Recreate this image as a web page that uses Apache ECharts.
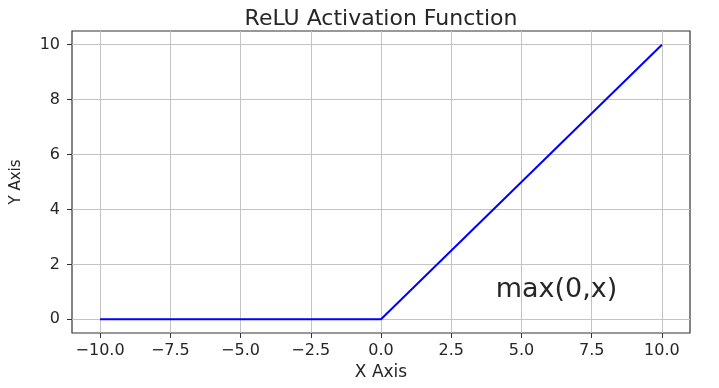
<!DOCTYPE html>
<html><head><meta charset="utf-8">
<script src="https://cdn.jsdelivr.net/npm/echarts@6/dist/echarts.min.js"></script>
<style>html,body{margin:0;padding:0;background:#fff}#c{width:719px;height:388px}</style>
</head><body><div id="c"></div>
<script>
const xValues = [-10, -5, 0, 5, 10];
const yValues = [0, 0, 0, 5, 10];
const xTicks = [-10, -7.5, -5, -2.5, 0, 2.5, 5, 7.5, 10];
const yTicks = [0, 2, 4, 6, 8, 10];
const annotation = {x: 6.25, y: 1.05, text: 'max(0,x)'};
const titleText = 'ReLU Activation Function';

const fmt = v => (v < 0 ? '\u2212' : '') + Math.abs(v).toFixed(1);
const font = 'DejaVu Sans';
const txt = '#262626';
const chart = echarts.init(document.getElementById('c'));
chart.setOption({
  animation: false,
  backgroundColor: '#fff',
  title: {text: titleText, left: 376, top: 3, textAlign: 'center',
    textStyle: {fontFamily: font, fontSize: 22, fontWeight: 'normal', color: txt}},
  grid: {left: 72, right: 29, top: 31, bottom: 55, show: true, borderColor: '#333', borderWidth: 1.2,
    outerBoundsMode: 'none', containLabel: false},
  xAxis: {type: 'value', min: -11, max: 11,
    name: 'X Axis', nameLocation: 'middle', nameGap: 31,
    nameTextStyle: {fontFamily: font, fontSize: 17, color: txt},
    axisLine: {show: false, onZero: false},
    axisTick: {show: true, length: 5, customValues: xTicks, lineStyle: {color: '#333'}},
    axisLabel: {customValues: xTicks, formatter: fmt, fontFamily: font, fontSize: 16, color: txt, margin: 10},
    splitLine: {show: true, lineStyle: {color: '#c4c4c4', width: 1}}},
  yAxis: {type: 'value', min: -0.5, max: 10.5,
    name: 'Y Axis', nameLocation: 'middle', nameGap: 48,
    nameTextStyle: {fontFamily: font, fontSize: 15, color: txt},
    axisLine: {show: false, onZero: false},
    axisTick: {show: true, length: 5, customValues: yTicks, lineStyle: {color: '#333'}},
    axisLabel: {customValues: yTicks, fontFamily: font, fontSize: 16, color: txt, margin: 12},
    splitLine: {show: true, lineStyle: {color: '#c4c4c4', width: 1}}},
  series: [{
    type: 'line', data: xValues.map((x, i) => [x, yValues[i]]),
    showSymbol: false, lineStyle: {color: '#0000ff', width: 2}, itemStyle: {color: '#0000ff'},
    markPoint: {symbol: 'circle', symbolSize: 0, silent: true,
      data: [{coord: [annotation.x, annotation.y], value: annotation.text}],
      label: {show: true, position: 'inside', formatter: annotation.text,
        fontFamily: font, fontSize: 27, color: txt}}
  }]
});
</script></body></html>
